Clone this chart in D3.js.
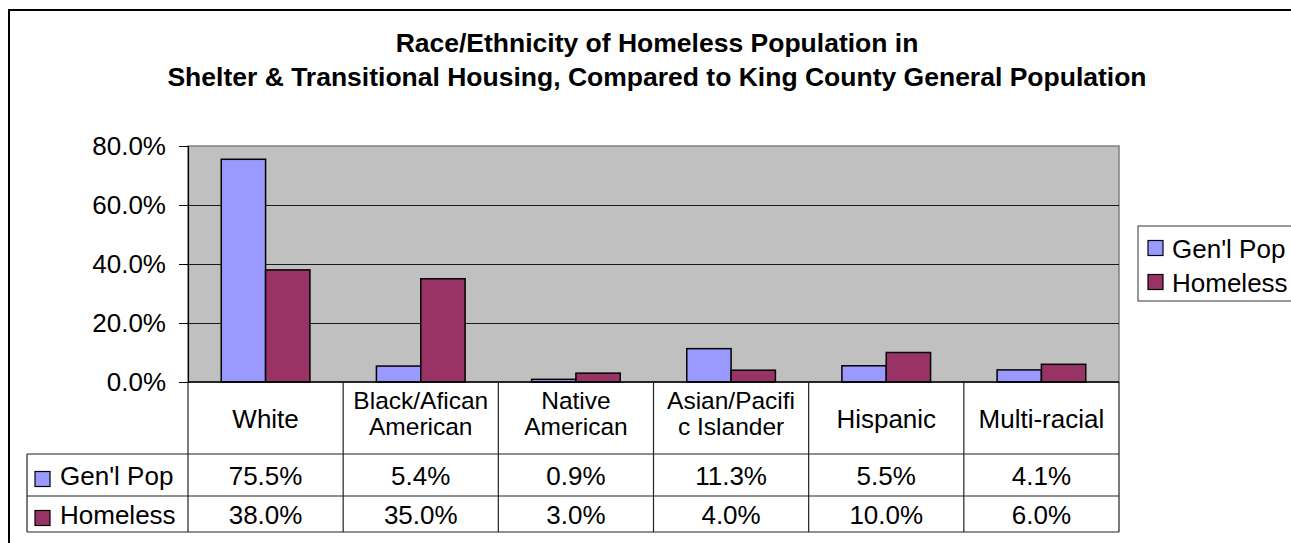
<!DOCTYPE html>
<html>
<head>
<meta charset="utf-8">
<script src="https://cdn.jsdelivr.net/npm/d3@7"></script>
<style>
  html, body { margin: 0; padding: 0; background: #fff; }
  svg { display: block; font-family: "Liberation Sans", Arial, sans-serif; }
</style>
</head>
<body>
<svg id="chart" width="1291" height="543"></svg>
<script>
// Race/ethnicity shares, general population vs. homeless population
const categories = ["White", "Black/Afican American", "Native American", "Asian/Pacific Islander", "Hispanic", "Multi-racial"];
const categoryLines = [["White"], ["Black/Afican", "American"], ["Native", "American"], ["Asian/Pacifi", "c Islander"], ["Hispanic"], ["Multi-racial"]];
const seriesNames = ["Gen'l Pop", "Homeless"];
const genlPop = [0.755, 0.054, 0.009, 0.113, 0.055, 0.041];
const homeless = [0.38, 0.35, 0.03, 0.04, 0.10, 0.06];
const yTicks = [0, 0.2, 0.4, 0.6, 0.8];
const titleLines = ["Race/Ethnicity of Homeless Population in", "Shelter & Transitional Housing, Compared to King County General Population"];

const colors = { "Gen'l Pop": "#9999FF", "Homeless": "#993366" };
const seriesValues = { "Gen'l Pop": genlPop, "Homeless": homeless };

const svg = d3.select("#chart");
const plot = { left: 188, right: 1119, top: 146, bottom: 382 };
const tableLeft = 27;
const rowLines = [382, 454, 496, 532];
const fontSize = 26;

// Outer chart frame
svg.append("rect")
  .attr("x", 9).attr("y", 10)
  .attr("width", 1320).attr("height", 560)
  .attr("fill", "#fff").attr("stroke", "#000").attr("stroke-width", 2);

// Title
svg.append("g").selectAll("text").data(titleLines).join("text")
  .attr("x", 657)
  .attr("y", (d, i) => 52 + i * 34)
  .attr("text-anchor", "middle")
  .attr("font-weight", "bold")
  .attr("font-size", 26.5)
  .text(d => d);

// Scales
const x0 = d3.scaleBand().domain(categories).range([plot.left, plot.right]).padding(0);
const x1 = d3.scaleBand().domain(seriesNames).range([0, x0.bandwidth()]).paddingInner(0).paddingOuter(0.75);
const y = d3.scaleLinear().domain([0, 0.8]).range([plot.bottom, plot.top]);

// Plot background
svg.append("rect")
  .attr("x", plot.left).attr("y", plot.top)
  .attr("width", plot.right - plot.left).attr("height", plot.bottom - plot.top)
  .attr("fill", "#C0C0C0").attr("stroke", "#808080").attr("stroke-width", 1.5);

// Gridlines
svg.append("g").selectAll("line").data(yTicks.filter(t => t > 0 && t < 0.8)).join("line")
  .attr("x1", plot.left).attr("x2", plot.right)
  .attr("y1", d => Math.round(y(d)) + 0.5).attr("y2", d => Math.round(y(d)) + 0.5)
  .attr("stroke", "#1a1a1a").attr("stroke-width", 1);

// Y axis
const yAxis = d3.axisLeft(y).tickValues(yTicks).tickFormat(d3.format(".1%")).tickSize(9).tickPadding(13);
const yg = svg.append("g").attr("transform", `translate(${plot.left},0)`).call(yAxis);
yg.select(".domain").attr("stroke", "#000").attr("stroke-width", 1.2);
yg.selectAll(".tick line").attr("stroke", "#000");
yg.selectAll(".tick text")
  .attr("font-family", "Liberation Sans, Arial, sans-serif")
  .attr("font-size", fontSize).attr("fill", "#000");

// Bars
const groups = svg.append("g").selectAll("g").data(categories).join("g")
  .attr("transform", d => `translate(${x0(d)},0)`);
groups.selectAll("rect")
  .data((d, i) => seriesNames.map(s => ({ s, v: seriesValues[s][i] })))
  .join("rect")
  .attr("x", d => x1(d.s))
  .attr("y", d => y(d.v))
  .attr("width", x1.bandwidth())
  .attr("height", d => y(0) - y(d.v))
  .attr("fill", d => colors[d.s])
  .attr("stroke", "#000").attr("stroke-width", 1.5);

// Baseline
svg.append("line")
  .attr("x1", plot.left).attr("x2", plot.right)
  .attr("y1", plot.bottom).attr("y2", plot.bottom)
  .attr("stroke", "#000").attr("stroke-width", 1.5);

// Data table
const table = svg.append("g").attr("stroke", "#222").attr("stroke-width", 1.2);
// horizontal rules
table.append("line").attr("x1", tableLeft).attr("x2", plot.right).attr("y1", rowLines[1]).attr("y2", rowLines[1]);
table.append("line").attr("x1", tableLeft).attr("x2", plot.right).attr("y1", rowLines[2]).attr("y2", rowLines[2]);
table.append("line").attr("x1", tableLeft).attr("x2", plot.right).attr("y1", rowLines[3]).attr("y2", rowLines[3]);
// vertical rules at category boundaries
const bounds = categories.map(c => x0(c)).concat([plot.right]);
table.selectAll("line.v").data(bounds).join("line").attr("class", "v")
  .attr("x1", d => d).attr("x2", d => d)
  .attr("y1", rowLines[0]).attr("y2", rowLines[3]);
table.append("line").attr("x1", tableLeft).attr("x2", tableLeft).attr("y1", rowLines[1]).attr("y2", rowLines[3]);

// Category labels
const catSize = 24.5;
const catText = svg.append("g").selectAll("text").data(categories).join("text")
  .attr("text-anchor", "middle")
  .attr("font-size", d => categoryLines[categories.indexOf(d)].length === 1 ? fontSize : catSize)
  .attr("x", d => x0(d) + x0.bandwidth() / 2)
  .attr("y", (d, i) => categoryLines[i].length === 1 ? 428 : 408.5);
catText.selectAll("tspan").data((d, i) => categoryLines[i]).join("tspan")
  .attr("x", function () { return d3.select(this.parentNode).attr("x"); })
  .attr("dy", (d, i) => i === 0 ? 0 : 26)
  .text(d => d);

// Table rows: legend key + values
const fmt = d3.format(".1%");
const rowBase = [485, 524];
seriesNames.forEach((s, r) => {
  const ry = rowBase[r];
  svg.append("rect")
    .attr("x", 35).attr("y", ry - 13.5).attr("width", 15).attr("height", 15)
    .attr("fill", colors[s]).attr("stroke", "#000").attr("stroke-width", 1.2);
  svg.append("text").attr("x", 60).attr("y", ry).attr("font-size", fontSize).text(s);
  svg.append("g").selectAll("text").data(seriesValues[s]).join("text")
    .attr("x", (d, i) => x0(categories[i]) + x0.bandwidth() / 2)
    .attr("y", ry)
    .attr("text-anchor", "middle")
    .attr("font-size", fontSize)
    .text(d => fmt(d));
});

// Legend
const legend = svg.append("g");
legend.append("rect")
  .attr("x", 1138).attr("y", 226).attr("width", 200).attr("height", 75)
  .attr("fill", "#fff").attr("stroke", "#555").attr("stroke-width", 1.2);
seriesNames.forEach((s, i) => {
  const cy = 248 + i * 34;
  legend.append("rect")
    .attr("x", 1148).attr("y", cy - 7.5).attr("width", 15).attr("height", 15)
    .attr("fill", colors[s]).attr("stroke", "#000").attr("stroke-width", 1.2);
  legend.append("text")
    .attr("x", 1172).attr("y", cy + 9.5)
    .attr("font-size", fontSize).text(s);
});
</script>
</body>
</html>
